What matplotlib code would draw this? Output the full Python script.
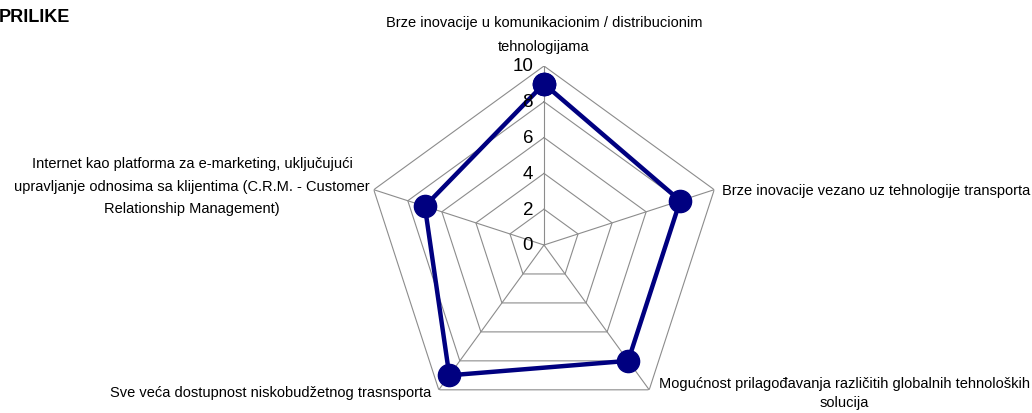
import numpy as np
import matplotlib
matplotlib.use("Agg")
import matplotlib.pyplot as plt

plt.rcParams['font.family'] = ['Liberation Sans', 'DejaVu Sans']

title = "PRILIKE"
categories = [
    "Brze inovacije u komunikacionim / distribucionim\ntehnologijama",
    "Brze inovacije vezano uz tehnologije transporta",
    "Mogućnost prilagođavanja različitih globalnih tehnoloških\nsolucija",
    "Sve veća dostupnost niskobudžetnog trasnsporta",
    "Internet kao platforma za e-marketing, uključujući\nupravljanje odnosima sa klijentima (C.R.M. - Customer\nRelationship Management)",
]
values = [9, 8, 8, 9, 7]
ticks = [0, 2, 4, 6, 8, 10]

W, H = 1032, 414
fig = plt.figure(figsize=(W / 100, H / 100), dpi=100)
cx, cy, R = 544, 246, 179
ax = fig.add_axes([(cx - R) / W, (H - cy - R) / H, 2 * R / W, 2 * R / H], projection='polar')
ax.set_theta_offset(np.pi / 2)
ax.set_theta_direction(-1)
ax.set_ylim(0, 10)
ax.grid(False)
ax.spines['polar'].set_visible(False)
ax.set_xticks([])
ax.set_yticks([])
ax.patch.set_alpha(0)

n = len(categories)
angles = np.arange(n) * 2 * np.pi / n
closed = np.append(angles, angles[0])

gcol = '#8c8c8c'
for t in ticks[1:]:
    ax.plot(closed, [t] * (n + 1), color=gcol, lw=0.8, zorder=1)
for a in angles:
    ax.plot([a, a], [0, ticks[-1]], color=gcol, lw=0.8, zorder=1)

ax.plot(closed, values + [values[0]], color='#000080', lw=3.2, zorder=3,
        marker='o', markersize=16, clip_on=False)

for t in ticks:
    ax.annotate(str(t), xy=(0, t), xytext=(-11, 0), textcoords='offset pixels',
                ha='right', va='center', fontsize=13.5, annotation_clip=False)

lab_fs = 10.5
ax.annotate(categories[0], xy=(angles[0], 10), xytext=(0, 13), textcoords='offset pixels',
            ha='center', va='bottom', fontsize=lab_fs, linespacing=1.95, annotation_clip=False)
ax.annotate(categories[1], xy=(angles[1], 10), xytext=(8, 0), textcoords='offset pixels',
            ha='left', va='center', fontsize=lab_fs, annotation_clip=False)
ax.annotate(categories[2], xy=(angles[2], 10), xytext=(10, 14), textcoords='offset pixels',
            ha='left', va='top', multialignment='center', fontsize=lab_fs,
            linespacing=1.5, annotation_clip=False)
ax.annotate(categories[3], xy=(angles[3], 10), xytext=(-8, -2), textcoords='offset pixels',
            ha='right', va='center', fontsize=lab_fs, annotation_clip=False)
ax.annotate(categories[4], xy=(angles[4], 10), xytext=(-4, 4), textcoords='offset pixels',
            ha='right', va='center', multialignment='center', fontsize=lab_fs,
            linespacing=1.8, annotation_clip=False)

fig.text(-0.001, 1 - 18 / H, title, ha='left', va='center', fontsize=13, fontweight='bold')

fig.savefig('out.png', dpi=100)
